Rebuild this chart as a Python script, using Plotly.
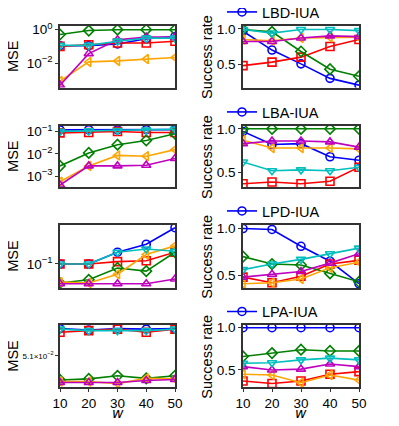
import plotly.graph_objects as go

W, H = 399, 426
OFF = 8  # default page body margin
FW, FH = W - OFF, H - OFF

w_vals = [10, 20, 30, 40, 50]

methods = ["LBD-IUA", "LBA-IUA", "LPD-IUA", "LPA-IUA"]
series_names = ["Proposed", "Baseline-1", "Baseline-2", "Baseline-3", "Baseline-4", "Baseline-5"]
colors = ["#0000ff", "#ff0000", "#008000", "#ffa500", "#bf00bf", "#00bfbf"]
symbols = ["circle-open", "square-open", "diamond-open", "triangle-left-open",
           "triangle-up-open", "triangle-down-open"]

# MSE values per row, order: blue, red, green, orange, magenta, cyan
mse_r1 = [
    [0.110, 0.110, 0.140, 0.282, 0.389],
    [0.100, 0.126, 0.158, 0.158, 0.200],
    [0.51, 0.87, 0.98, 0.98, 0.98],
    [0.00087, 0.0120, 0.0138, 0.0178, 0.0219],
    [0.0005, 0.0372, 0.245, 0.355, 0.355],
    [0.115, 0.115, 0.204, 0.309, 0.309],
]
mse_r2 = [
    [0.118, 0.120, 0.119, 0.121, 0.122],
    [0.087, 0.091, 0.100, 0.091, 0.091],
    [0.00288, 0.011, 0.0257, 0.0398, 0.0794],
    [0.00056, 0.00288, 0.0085, 0.0078, 0.0155],
    [0.0004, 0.00288, 0.00288, 0.0031, 0.0062],
    [0.102, 0.107, 0.110, 0.115, 0.126],
]
mse_r3 = [
    [0.100, 0.100, 0.141, 0.178, 0.288],
    [0.100, 0.100, 0.107, 0.110, 0.141],
    [0.0575, 0.0631, 0.0891, 0.0813, 0.141],
    [0.0589, 0.0575, 0.0741, 0.132, 0.170],
    [0.0562, 0.0562, 0.0562, 0.0562, 0.0646],
    [0.100, 0.100, 0.141, 0.155, 0.145],
]
mse_r4 = [
    [0.05153, 0.05150, 0.05153, 0.05152, 0.05153],
    [0.05146, 0.05149, 0.05152, 0.05146, 0.05152],
    [0.05054, 0.05056, 0.05062, 0.05057, 0.05062],
    [0.05051, 0.05051, 0.05047, 0.05057, 0.05056],
    [0.05049, 0.05049, 0.05049, 0.05053, 0.05055],
    [0.05152, 0.05149, 0.05149, 0.05149, 0.05152],
]

sr_r1 = [
    [0.966, 0.70, 0.505, 0.30, 0.204],
    [0.48, 0.53, 0.60, 0.75, 0.85],
    [0.99, 0.957, 0.68, 0.43, 0.33],
    [0.85, 0.83, 0.87, 0.88, 0.88],
    [0.82, 0.82, 0.87, 0.90, 0.89],
    [0.99, 0.94, 0.99, 0.99, 0.975],
]
sr_r2 = [
    [0.97, 0.82, 0.83, 0.68, 0.64],
    [0.37, 0.39, 0.37, 0.40, 0.56],
    [1.0, 1.0, 1.0, 1.0, 1.0],
    [0.87, 0.78, 0.78, 0.78, 0.77],
    [0.83, 0.86, 0.86, 0.85, 0.79],
    [0.62, 0.52, 0.53, 0.52, 0.56],
]
sr_r3 = [
    [1.0, 0.99, 0.81, 0.65, 0.41],
    [0.48, 0.42, 0.49, 0.62, 0.66],
    [0.70, 0.62, 0.61, 0.52, 0.43],
    [0.41, 0.42, 0.46, 0.58, 0.64],
    [0.48, 0.51, 0.54, 0.63, 0.73],
    [0.56, 0.62, 0.67, 0.73, 0.79],
]
sr_r4 = [
    [1.0, 1.0, 1.0, 1.0, 1.0],
    [0.37, 0.34, 0.37, 0.45, 0.48],
    [0.66, 0.70, 0.74, 0.725, 0.725],
    [0.45, 0.44, 0.35, 0.44, 0.38],
    [0.54, 0.50, 0.51, 0.57, 0.54],
    [0.58, 0.585, 0.62, 0.64, 0.62],
]

mse_rows = [mse_r1, mse_r2, mse_r3, mse_r4]
sr_rows = [sr_r1, sr_r2, sr_r3, sr_r4]

mse_ranges = [[-3.44, 0.24], [-3.5, -0.73], [-1.304, -0.5], [-1.29757, -1.28735]]
mse_tickvals = [[1, 0.01], [0.1, 0.01, 0.001], [0.1], [0.051]]
mse_ticktext = [["10<sup>0</sup>", "10<sup>−2</sup>"],
                ["10<sup>−1</sup>", "10<sup>−2</sup>", "10<sup>−3</sup>"],
                ["10<sup>−1</sup>"],
                ["5.1×10<sup>−2</sup>"]]
sr_ranges = [[0.171, 1.047], [0.33, 1.038], [0.364, 1.043], [0.295, 1.032]]

FONT = "Liberation Sans, Arial, sans-serif"
rows_px = [(25.5, 87.5), (125.5, 187.3), (224.5, 288), (325, 387.3)]


def fx(px):
    return (px - OFF) / FW


def fy(py):
    return 1 - (py - OFF) / FH


xL = [fx(60), fx(175)]
xR = [fx(243), fx(359)]

fig = go.Figure()
layout = dict(
    width=FW, height=FH, margin=dict(l=0, r=0, t=0, b=0, pad=0, autoexpand=False),
    paper_bgcolor="white", plot_bgcolor="white",
    font=dict(family=FONT, size=13.5, color="black"),
    annotations=[],
)

axis_common = dict(showline=True, mirror=True, linecolor="#333333", linewidth=1.5,
                   showgrid=False, zeroline=False, ticks="outside", ticklen=3,
                   automargin=False,
                   tickcolor="#333333", tickfont=dict(family=FONT, size=13.5, color="black"))

for r in range(4):
    top, bot = rows_px[r]
    ydom = [fy(bot), fy(top)]
    iL = 2 * r + 1
    iR = 2 * r + 2
    xa_L = "xaxis" if iL == 1 else f"xaxis{iL}"
    ya_L = "yaxis" if iL == 1 else f"yaxis{iL}"
    xa_R = f"xaxis{iR}"
    ya_R = f"yaxis{iR}"
    refL_x = "x" if iL == 1 else f"x{iL}"
    refL_y = "y" if iL == 1 else f"y{iL}"
    refR_x = f"x{iR}"
    refR_y = f"y{iR}"
    show_x = (r == 3)
    for ax_name, dom, anchor in [(xa_L, xL, refL_y), (xa_R, xR, refR_y)]:
        layout[ax_name] = dict(axis_common, domain=dom, anchor=anchor, range=[10, 50],
                               tickvals=w_vals, showticklabels=show_x,
                               ticks="outside" if show_x else "")
    legname = "legend" if r == 0 else f"legend{r + 1}"
    layout[ya_L] = dict(axis_common, domain=ydom, anchor=refL_x, type="log",
                        range=mse_ranges[r], tickvals=mse_tickvals[r],
                        ticktext=mse_ticktext[r])
    if r == 3:
        layout[ya_L]["tickfont"] = dict(family=FONT, size=8, color="black")
    layout[ya_R] = dict(axis_common, domain=ydom, anchor=refR_x, range=sr_ranges[r],
                        tickvals=[0.5, 1.0], ticktext=["0.5", "1.0"])

    for k in range(6):
        common = dict(x=w_vals, mode="lines+markers",
                      line=dict(color=colors[k], width=1.6),
                      marker=dict(symbol=symbols[k], size=8, color=colors[k],
                                  line=dict(width=1.6, color=colors[k])))
        fig.add_trace(go.Scatter(y=mse_rows[r][k], xaxis=refL_x, yaxis=refL_y,
                                 name=methods[r] if k == 0 else series_names[k],
                                 showlegend=False, **common))
        fig.add_trace(go.Scatter(y=sr_rows[r][k], xaxis=refR_x, yaxis=refR_y,
                                 name=methods[r] if k == 0 else series_names[k],
                                 showlegend=(k == 0), legend=legname, **common))

    layout[legname] = dict(x=fx(222), y=fy(top - 13.5), xanchor="left", yanchor="middle",
                           bgcolor="rgba(0,0,0,0)", font=dict(family=FONT, size=14.5),
                           itemwidth=30, tracegroupgap=0)
    ymid = fy((top + bot) / 2)
    layout["annotations"].append(dict(text="MSE", x=fx(13.5), y=ymid, xref="paper", yref="paper",
                                      textangle=-90, showarrow=False,
                                      font=dict(family=FONT, size=14.5), xanchor="center",
                                      yanchor="middle"))
    layout["annotations"].append(dict(text="Success rate", x=fx(207.5), y=ymid, xref="paper",
                                      yref="paper", textangle=-90, showarrow=False,
                                      font=dict(family=FONT, size=14.5), xanchor="center",
                                      yanchor="middle"))

for xc in [117.5, 301]:
    layout["annotations"].append(dict(text="<i>w</i>", x=fx(xc), y=fy(413), xref="paper",
                                      yref="paper", showarrow=False,
                                      font=dict(family="DejaVu Sans", size=14),
                                      xanchor="center", yanchor="middle"))

fig.update_layout(**layout)
fig.write_html("out.html")
